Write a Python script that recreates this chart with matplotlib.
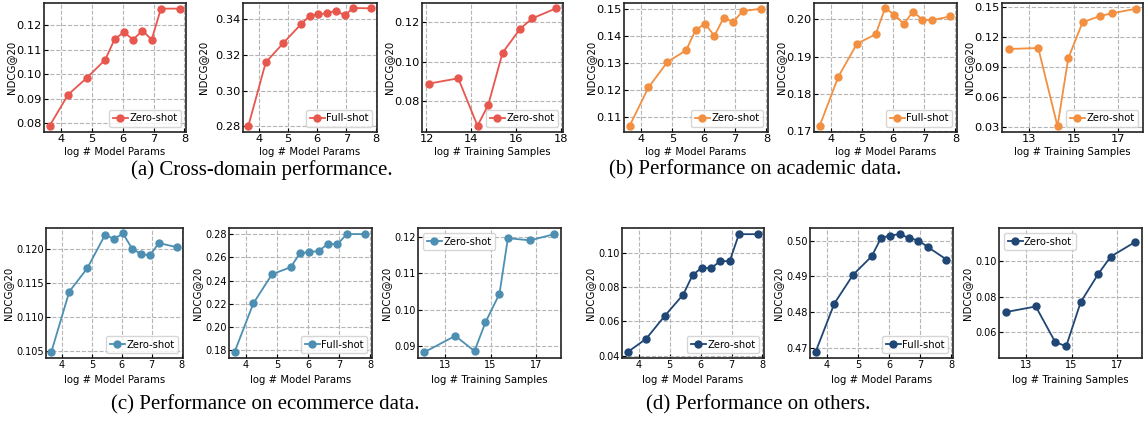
import matplotlib
matplotlib.use("Agg")
import matplotlib.pyplot as plt
import numpy as np

# x values (log scale)
modelParams = [3.64, 4.24, 4.84, 5.44, 5.74, 6.04, 6.34, 6.64, 6.94, 7.24, 7.84]
trainSamples = [12.1, 13.42, 14.28, 14.76, 15.4, 16.18, 16.72, 17.79]
trainSamplesEcom = [12.08, 13.44, 14.29, 14.77, 15.39, 15.76, 16.74, 17.8]

# NDCG@20
crossZero = [0.0788, 0.0916, 0.0984, 0.1059, 0.1142, 0.1172, 0.1141, 0.1178, 0.1141, 0.1268, 0.1268]
crossFull = [0.2800, 0.3159, 0.3267, 0.3372, 0.3419, 0.3428, 0.3434, 0.3449, 0.3423, 0.3464, 0.3462]
crossTrain = [0.0889, 0.0916, 0.0676, 0.0782, 0.1045, 0.1165, 0.1218, 0.1269]

academicZero = [0.1068, 0.1210, 0.1304, 0.1348, 0.1422, 0.1447, 0.1401, 0.1469, 0.1452, 0.1493, 0.1502]
academicFull = [0.1714, 0.1846, 0.1935, 0.1960, 0.2030, 0.2013, 0.1988, 0.2021, 0.1999, 0.1998, 0.2008]
academicTrain = [0.1080, 0.1090, 0.0307, 0.0987, 0.1347, 0.1410, 0.1437, 0.1483]

ecomZero = [0.1049, 0.1137, 0.1171, 0.1220, 0.1214, 0.1222, 0.1200, 0.1192, 0.1190, 0.1208, 0.1202]
ecomFull = [0.1786, 0.2203, 0.2454, 0.2515, 0.2636, 0.2645, 0.2654, 0.2717, 0.2711, 0.2800, 0.2800]
ecomTrain = [0.0883, 0.0928, 0.0886, 0.0965, 0.1044, 0.1197, 0.1191, 0.1208]

otherZero = [0.0421, 0.0499, 0.0632, 0.0757, 0.0870, 0.0914, 0.0910, 0.0953, 0.0951, 0.1109, 0.1109]
otherFull = [0.4689, 0.4824, 0.4904, 0.4956, 0.5007, 0.5014, 0.5018, 0.5007, 0.5000, 0.4982, 0.4947]
otherTrain = [0.0712, 0.0744, 0.0541, 0.0518, 0.0769, 0.0930, 0.1027, 0.1110]

captions = ["(a) Cross-domain performance.", "(b) Performance on academic data.",
            "(c) Performance on ecommerce data.", "(d) Performance on others."]

colors = {"a": "#E8574D", "b": "#F28F40", "c": "#4D8FB2", "d": "#1F4675"}

W, H = 1148, 428
fig = plt.figure(figsize=(W / 100, H / 100), dpi=100)


def pixRect(l, r, t, b):
    return [l / W, 1 - b / H, (r - l) / W, (b - t) / H]


# x data, y data, legend, color, (l, r, t, b), ylim, yticks, fmt, kind, legend loc, ylabel offset px
panels = [
    (modelParams, crossZero, "Zero-shot", "a", (44, 186, 3, 132), (0.0763, 0.1291), np.arange(0.08, 0.1201, 0.01), "%.2f", "model", "lower right", 28),
    (modelParams, crossFull, "Full-shot", "a", (243, 377, 3, 132), (0.2768, 0.3492), np.arange(0.28, 0.3401, 0.02), "%.2f", "model", "lower right", 35),
    (trainSamples, crossTrain, "Zero-shot", "a", (422, 563, 3, 132), (0.0645, 0.1296), [0.08, 0.10, 0.12], "%.2f", "trainA", "lower right", 28),
    (modelParams, academicZero, "Zero-shot", "b", (624, 768, 3, 132), (0.1045, 0.1523), np.arange(0.11, 0.1501, 0.01), "%.2f", "model", "lower right", 28),
    (modelParams, academicFull, "Full-shot", "b", (814, 957, 3, 132), (0.1698, 0.2044), np.arange(0.17, 0.2001, 0.01), "%.2f", "model", "lower right", 28),
    (trainSamples, academicTrain, "Zero-shot", "b", (1002, 1143, 3, 132), (0.025, 0.154), np.arange(0.03, 0.1501, 0.03), "%.2f", "train", "lower right", 28),
    (modelParams, ecomZero, "Zero-shot", "c", (46, 183, 228, 358), (0.1040, 0.1230), np.arange(0.105, 0.1201, 0.005), "%.3f", "model", "lower right", 33),
    (modelParams, ecomFull, "Full-shot", "c", (229, 372, 228, 358), (0.1734, 0.2852), np.arange(0.18, 0.2801, 0.02), "%.2f", "model", "lower right", 27),
    (trainSamplesEcom, ecomTrain, "Zero-shot", "c", (418, 561, 228, 358), (0.0867, 0.1225), np.arange(0.09, 0.1201, 0.01), "%.2f", "train", "upper left", 27),
    (modelParams, otherZero, "Zero-shot", "d", (622, 764, 228, 358), (0.0387, 0.1145), np.arange(0.04, 0.1001, 0.02), "%.2f", "model", "lower right", 27),
    (modelParams, otherFull, "Full-shot", "d", (810, 953, 228, 358), (0.4672, 0.5035), np.arange(0.47, 0.5001, 0.01), "%.2f", "model", "lower right", 27),
    (trainSamples, otherTrain, "Zero-shot", "d", (999, 1142, 228, 358), (0.0451, 0.1190), np.arange(0.06, 0.1001, 0.02), "%.2f", "train", "upper left", 27),
]

for i, (xs, ys, name, key, box, ylim, yticks, fmt, kind, loc, yoff) in enumerate(panels):
    l, r, t, b = box
    topRow = i < 6
    ax = fig.add_axes(pixRect(l, r, t, b))
    ax.plot(xs, ys, color=colors[key], marker="o", markersize=5, linewidth=1.3, label=name)
    if kind == "model":
        ax.set_xlim(3.46, 8.05)
        ax.set_xticks([4, 5, 6, 7, 8])
        ax.set_xlabel("log # Model Params", fontsize=7.3)
    else:
        ax.set_xlim(11.8, 18.1)
        ax.set_xticks([12, 14, 16, 18] if kind == "trainA" else [13, 15, 17])
        ax.set_xlabel("log # Training Samples", fontsize=7.3)
    ax.set_ylim(*ylim)
    ax.set_yticks(yticks)
    ax.yaxis.set_major_formatter(plt.FormatStrFormatter(fmt))
    ax.set_ylabel("NDCG@20", fontsize=7.3)
    ax.yaxis.set_label_coords(-yoff / (r - l), 0.5)
    ax.xaxis.set_label_coords(0.5, -(15 if topRow else 17) / (b - t))
    ax.tick_params(direction="in", length=3, width=0.8, pad=1.5, labelsize=8.2 if topRow else 7)
    ax.grid(True, linestyle="--", color="#b5b5b5", linewidth=0.8)
    ax.set_axisbelow(True)
    for sp in ax.spines.values():
        sp.set_linewidth(1.2)
        sp.set_color("#222222")
    ax.legend(loc=loc, fontsize=7.2, handlelength=1.5, handletextpad=0.15,
              borderpad=0.35, borderaxespad=0.5)

capPos = [(262, 170), (755, 170), (265, 405), (758, 405)]
for text, (cx, cy) in zip(captions, capPos):
    fig.text(cx / W, 1 - cy / H, text, ha="center", va="center",
             fontsize=15, family="Liberation Serif")

plt.savefig("out.png", dpi=100)
